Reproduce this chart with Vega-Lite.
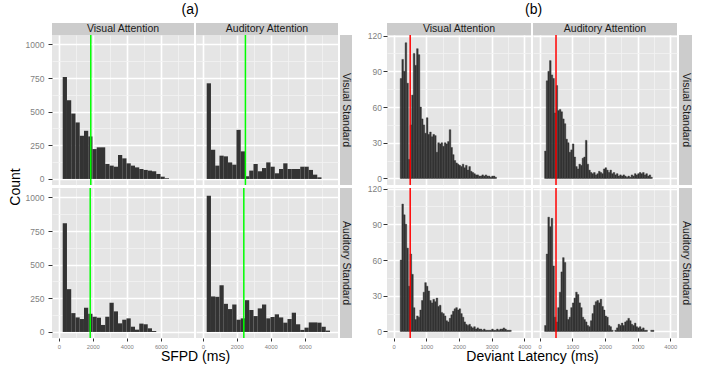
{
"$schema": "https://vega.github.io/schema/vega-lite/v6.json",
"padding": {"left": 8, "top": 3, "right": 5, "bottom": 34},
"datasets": {
"a1": [{"x":230,"e":480,"n":758},{"x":480,"e":730,"n":585},{"x":730,"e":980,"n":486},{"x":980,"e":1230,"n":420},{"x":1230,"e":1480,"n":321},{"x":1480,"e":1730,"n":358},{"x":1730,"e":1980,"n":316},{"x":1980,"e":2230,"n":222},{"x":2230,"e":2480,"n":235},{"x":2480,"e":2730,"n":235},{"x":2730,"e":2980,"n":111},{"x":2980,"e":3230,"n":99},{"x":3230,"e":3480,"n":91},{"x":3480,"e":3730,"n":178},{"x":3730,"e":3980,"n":153},{"x":3980,"e":4230,"n":116},{"x":4230,"e":4480,"n":99},{"x":4480,"e":4730,"n":86},{"x":4730,"e":4980,"n":74},{"x":4980,"e":5230,"n":67},{"x":5230,"e":5480,"n":62},{"x":5480,"e":5730,"n":57},{"x":5730,"e":5980,"n":37},{"x":5980,"e":6230,"n":17},{"x":6230,"e":6480,"n":5}],
"a2": [{"x":230,"e":480,"n":711},{"x":480,"e":730,"n":217},{"x":730,"e":980,"n":99},{"x":980,"e":1230,"n":173},{"x":1230,"e":1480,"n":168},{"x":1480,"e":1730,"n":123},{"x":1730,"e":1980,"n":106},{"x":1980,"e":2230,"n":365},{"x":2230,"e":2480,"n":205},{"x":2480,"e":2730,"n":20},{"x":2730,"e":2980,"n":62},{"x":2980,"e":3230,"n":111},{"x":3230,"e":3480,"n":57},{"x":3480,"e":3730,"n":81},{"x":3730,"e":3980,"n":123},{"x":3980,"e":4230,"n":91},{"x":4230,"e":4480,"n":42},{"x":4480,"e":4730,"n":74},{"x":4730,"e":4980,"n":116},{"x":4980,"e":5230,"n":74},{"x":5230,"e":5480,"n":74},{"x":5480,"e":5730,"n":74},{"x":5730,"e":5980,"n":91},{"x":5980,"e":6230,"n":91},{"x":6230,"e":6480,"n":67},{"x":6480,"e":6730,"n":32},{"x":6730,"e":6980,"n":12}],
"a3": [{"x":230,"e":480,"n":808},{"x":480,"e":730,"n":318},{"x":730,"e":980,"n":140},{"x":980,"e":1230,"n":108},{"x":1230,"e":1480,"n":96},{"x":1480,"e":1730,"n":180},{"x":1730,"e":1980,"n":135},{"x":1980,"e":2230,"n":113},{"x":2230,"e":2480,"n":106},{"x":2480,"e":2730,"n":52},{"x":2730,"e":2980,"n":113},{"x":2980,"e":3230,"n":217},{"x":3230,"e":3480,"n":153},{"x":3480,"e":3730,"n":64},{"x":3730,"e":3980,"n":91},{"x":3980,"e":4230,"n":101},{"x":4230,"e":4480,"n":39},{"x":4480,"e":4730,"n":17},{"x":4730,"e":4980,"n":62},{"x":4980,"e":5230,"n":57},{"x":5230,"e":5480,"n":27},{"x":5480,"e":5730,"n":7}],
"a4": [{"x":230,"e":480,"n":1012},{"x":480,"e":730,"n":264},{"x":730,"e":980,"n":261},{"x":980,"e":1230,"n":347},{"x":1230,"e":1480,"n":209},{"x":1480,"e":1730,"n":170},{"x":1730,"e":1980,"n":204},{"x":1980,"e":2230,"n":91},{"x":2230,"e":2480,"n":101},{"x":2480,"e":2730,"n":236},{"x":2730,"e":2980,"n":163},{"x":2980,"e":3230,"n":118},{"x":3230,"e":3480,"n":175},{"x":3480,"e":3730,"n":204},{"x":3730,"e":3980,"n":101},{"x":3980,"e":4230,"n":111},{"x":4230,"e":4480,"n":131},{"x":4480,"e":4730,"n":108},{"x":4730,"e":4980,"n":69},{"x":4980,"e":5230,"n":96},{"x":5230,"e":5480,"n":143},{"x":5480,"e":5730,"n":57},{"x":5730,"e":5980,"n":15},{"x":5980,"e":6230,"n":32},{"x":6230,"e":6480,"n":71},{"x":6480,"e":6730,"n":71},{"x":6730,"e":6980,"n":69},{"x":6980,"e":7230,"n":39},{"x":7230,"e":7480,"n":10}],
"b1": [{"x":200,"e":250,"n":84},{"x":250,"e":300,"n":100},{"x":300,"e":350,"n":90},{"x":350,"e":400,"n":114},{"x":400,"e":450,"n":80},{"x":450,"e":500,"n":16},{"x":500,"e":550,"n":45},{"x":550,"e":600,"n":70},{"x":600,"e":650,"n":105},{"x":650,"e":700,"n":95},{"x":700,"e":750,"n":109},{"x":750,"e":800,"n":104},{"x":800,"e":850,"n":60},{"x":850,"e":900,"n":50},{"x":900,"e":950,"n":45},{"x":950,"e":1000,"n":38},{"x":1000,"e":1050,"n":51},{"x":1050,"e":1100,"n":37},{"x":1100,"e":1150,"n":39},{"x":1150,"e":1200,"n":35},{"x":1200,"e":1250,"n":37},{"x":1250,"e":1300,"n":36},{"x":1300,"e":1350,"n":22},{"x":1350,"e":1400,"n":30},{"x":1400,"e":1450,"n":29},{"x":1450,"e":1500,"n":30},{"x":1500,"e":1550,"n":27},{"x":1550,"e":1600,"n":30},{"x":1600,"e":1650,"n":29},{"x":1650,"e":1700,"n":31},{"x":1700,"e":1750,"n":41},{"x":1750,"e":1800,"n":26},{"x":1800,"e":1850,"n":20},{"x":1850,"e":1900,"n":15},{"x":1900,"e":1950,"n":13},{"x":1950,"e":2000,"n":12},{"x":2000,"e":2050,"n":11},{"x":2050,"e":2100,"n":10},{"x":2100,"e":2150,"n":12},{"x":2150,"e":2200,"n":9},{"x":2200,"e":2250,"n":11},{"x":2250,"e":2300,"n":7},{"x":2300,"e":2350,"n":10},{"x":2350,"e":2400,"n":6},{"x":2400,"e":2450,"n":5},{"x":2450,"e":2500,"n":4},{"x":2500,"e":2550,"n":3},{"x":2550,"e":2600,"n":3},{"x":2600,"e":2650,"n":2},{"x":2650,"e":2700,"n":2},{"x":2700,"e":2750,"n":3},{"x":2750,"e":2800,"n":2},{"x":2800,"e":2850,"n":3},{"x":2850,"e":2900,"n":2},{"x":2900,"e":2950,"n":2},{"x":2950,"e":3000,"n":1},{"x":3000,"e":3050,"n":2},{"x":3050,"e":3100,"n":2},{"x":3100,"e":3150,"n":1}],
"b2": [{"x":150,"e":200,"n":23},{"x":200,"e":250,"n":82},{"x":250,"e":300,"n":90},{"x":300,"e":350,"n":99},{"x":350,"e":400,"n":87},{"x":400,"e":450,"n":84},{"x":450,"e":500,"n":55},{"x":500,"e":550,"n":78},{"x":550,"e":600,"n":57},{"x":600,"e":650,"n":58},{"x":650,"e":700,"n":56},{"x":700,"e":750,"n":50},{"x":750,"e":800,"n":46},{"x":800,"e":850,"n":33},{"x":850,"e":900,"n":30},{"x":900,"e":950,"n":22},{"x":950,"e":1000,"n":24},{"x":1000,"e":1050,"n":29},{"x":1050,"e":1100,"n":18},{"x":1100,"e":1150,"n":10},{"x":1150,"e":1200,"n":8},{"x":1200,"e":1250,"n":12},{"x":1250,"e":1300,"n":11},{"x":1300,"e":1350,"n":17},{"x":1350,"e":1400,"n":18},{"x":1400,"e":1450,"n":32},{"x":1450,"e":1500,"n":12},{"x":1500,"e":1550,"n":7},{"x":1550,"e":1600,"n":5},{"x":1600,"e":1650,"n":4},{"x":1650,"e":1700,"n":5},{"x":1700,"e":1750,"n":3},{"x":1750,"e":1800,"n":4},{"x":1800,"e":1850,"n":6},{"x":1850,"e":1900,"n":5},{"x":1900,"e":1950,"n":4},{"x":1950,"e":2000,"n":8},{"x":2000,"e":2050,"n":9},{"x":2050,"e":2100,"n":7},{"x":2100,"e":2150,"n":5},{"x":2150,"e":2200,"n":7},{"x":2200,"e":2250,"n":4},{"x":2250,"e":2300,"n":5},{"x":2300,"e":2350,"n":3},{"x":2350,"e":2400,"n":4},{"x":2400,"e":2450,"n":2},{"x":2450,"e":2500,"n":3},{"x":2500,"e":2550,"n":2},{"x":2550,"e":2600,"n":3},{"x":2600,"e":2650,"n":2},{"x":2650,"e":2700,"n":1},{"x":2700,"e":2750,"n":2},{"x":2750,"e":2800,"n":1},{"x":2800,"e":2850,"n":3},{"x":2850,"e":2900,"n":2},{"x":2900,"e":2950,"n":4},{"x":2950,"e":3000,"n":3},{"x":3000,"e":3050,"n":4},{"x":3050,"e":3100,"n":5},{"x":3100,"e":3150,"n":4},{"x":3150,"e":3200,"n":5},{"x":3200,"e":3250,"n":3},{"x":3250,"e":3300,"n":4},{"x":3300,"e":3350,"n":2},{"x":3350,"e":3400,"n":3},{"x":3400,"e":3450,"n":1}],
"b3": [{"x":200,"e":250,"n":60},{"x":250,"e":300,"n":107},{"x":300,"e":350,"n":98},{"x":350,"e":400,"n":90},{"x":400,"e":450,"n":70},{"x":450,"e":500,"n":38},{"x":500,"e":550,"n":65},{"x":550,"e":600,"n":48},{"x":600,"e":650,"n":20},{"x":650,"e":700,"n":10},{"x":700,"e":750,"n":13},{"x":750,"e":800,"n":12},{"x":800,"e":850,"n":18},{"x":850,"e":900,"n":26},{"x":900,"e":950,"n":33},{"x":950,"e":1000,"n":41},{"x":1000,"e":1050,"n":38},{"x":1050,"e":1100,"n":34},{"x":1100,"e":1150,"n":26},{"x":1150,"e":1200,"n":24},{"x":1200,"e":1250,"n":27},{"x":1250,"e":1300,"n":25},{"x":1300,"e":1350,"n":28},{"x":1350,"e":1400,"n":21},{"x":1400,"e":1450,"n":22},{"x":1450,"e":1500,"n":16},{"x":1500,"e":1550,"n":15},{"x":1550,"e":1600,"n":13},{"x":1600,"e":1650,"n":9},{"x":1650,"e":1700,"n":8},{"x":1700,"e":1750,"n":11},{"x":1750,"e":1800,"n":14},{"x":1800,"e":1850,"n":17},{"x":1850,"e":1900,"n":19},{"x":1900,"e":1950,"n":20},{"x":1950,"e":2000,"n":18},{"x":2000,"e":2050,"n":19},{"x":2050,"e":2100,"n":15},{"x":2100,"e":2150,"n":12},{"x":2150,"e":2200,"n":8},{"x":2200,"e":2250,"n":6},{"x":2250,"e":2300,"n":5},{"x":2300,"e":2350,"n":6},{"x":2350,"e":2400,"n":4},{"x":2400,"e":2450,"n":3},{"x":2450,"e":2500,"n":4},{"x":2500,"e":2550,"n":2},{"x":2550,"e":2600,"n":3},{"x":2600,"e":2650,"n":2},{"x":2650,"e":2700,"n":2},{"x":2700,"e":2750,"n":1},{"x":2750,"e":2800,"n":2},{"x":2800,"e":2850,"n":1},{"x":2850,"e":2900,"n":1},{"x":2900,"e":2950,"n":1},{"x":2950,"e":3000,"n":1},{"x":3000,"e":3050,"n":2},{"x":3050,"e":3100,"n":1},{"x":3100,"e":3150,"n":1},{"x":3150,"e":3200,"n":2},{"x":3200,"e":3250,"n":1},{"x":3250,"e":3300,"n":2},{"x":3300,"e":3350,"n":2},{"x":3350,"e":3400,"n":3},{"x":3400,"e":3450,"n":2},{"x":3450,"e":3500,"n":1},{"x":3500,"e":3550,"n":1},{"x":3550,"e":3600,"n":1}],
"b4": [{"x":150,"e":200,"n":5},{"x":200,"e":250,"n":65},{"x":250,"e":300,"n":96},{"x":300,"e":350,"n":88},{"x":350,"e":400,"n":95},{"x":400,"e":450,"n":55},{"x":450,"e":500,"n":12},{"x":500,"e":550,"n":8},{"x":550,"e":600,"n":20},{"x":600,"e":650,"n":33},{"x":650,"e":700,"n":50},{"x":700,"e":750,"n":62},{"x":750,"e":800,"n":58},{"x":800,"e":850,"n":18},{"x":850,"e":900,"n":10},{"x":900,"e":950,"n":12},{"x":950,"e":1000,"n":20},{"x":1000,"e":1050,"n":24},{"x":1050,"e":1100,"n":28},{"x":1100,"e":1150,"n":33},{"x":1150,"e":1200,"n":31},{"x":1200,"e":1250,"n":24},{"x":1250,"e":1300,"n":20},{"x":1300,"e":1350,"n":12},{"x":1350,"e":1400,"n":10},{"x":1400,"e":1450,"n":8},{"x":1450,"e":1500,"n":5},{"x":1500,"e":1550,"n":4},{"x":1550,"e":1600,"n":9},{"x":1600,"e":1650,"n":15},{"x":1650,"e":1700,"n":22},{"x":1700,"e":1750,"n":25},{"x":1750,"e":1800,"n":26},{"x":1800,"e":1850,"n":24},{"x":1850,"e":1900,"n":27},{"x":1900,"e":1950,"n":21},{"x":1950,"e":2000,"n":18},{"x":2000,"e":2050,"n":13},{"x":2050,"e":2100,"n":12},{"x":2100,"e":2150,"n":5},{"x":2150,"e":2200,"n":4},{"x":2200,"e":2250,"n":1},{"x":2300,"e":2350,"n":1},{"x":2350,"e":2400,"n":3},{"x":2400,"e":2450,"n":6},{"x":2450,"e":2500,"n":5},{"x":2500,"e":2550,"n":7},{"x":2550,"e":2600,"n":5},{"x":2600,"e":2650,"n":8},{"x":2650,"e":2700,"n":9},{"x":2700,"e":2750,"n":11},{"x":2750,"e":2800,"n":9},{"x":2800,"e":2850,"n":6},{"x":2850,"e":2900,"n":5},{"x":2900,"e":2950,"n":7},{"x":2950,"e":3000,"n":4},{"x":3000,"e":3050,"n":3},{"x":3050,"e":3100,"n":4},{"x":3100,"e":3150,"n":2},{"x":3150,"e":3200,"n":3},{"x":3200,"e":3250,"n":1},{"x":3250,"e":3300,"n":1},{"x":3400,"e":3450,"n":1},{"x":3450,"e":3500,"n":1}]
},
"hconcat": [
{
"title": {"text": "(a)", "dx": 10, "offset": 6},
"columns": 3, "align": "each", "bounds": "flush", "spacing": {"row": 0, "column": 2},
"concat": [
{"width": 142, "height": 12, "view": {"fill": "#CCCCCC"}, "data": {"values": [{"t": "Visual Attention"}]}, "mark": {"type": "text", "fontSize": 10.5, "color": "#1A1A1A"}, "encoding": {"text": {"field": "t"}}},
{"width": 142, "height": 12, "view": {"fill": "#CCCCCC"}, "data": {"values": [{"t": "Auditory Attention"}]}, "mark": {"type": "text", "fontSize": 10.5, "color": "#1A1A1A"}, "encoding": {"text": {"field": "t"}}},
{"width": 12, "height": 12, "data": {"values": [{"t": ""}]}, "mark": {"type": "text"}, "encoding": {"text": {"field": "t"}}},
{"width": 142, "height": 150, "view": {"fill": "#E5E5E5"}, "layer": [
 {"data": {"name": "a1"}, "mark": {"type": "rect", "color": "#333333"}, "encoding": {
  "x": {"field": "x", "type": "quantitative", "scale": {"domain": [-400, 7950]}, "axis": {"values": [0,1000,2000,3000,4000,5000,6000,7000], "labels": false, "ticks": false, "title": null, "gridColor": {"condition": {"test": "datum.value % 2000 === 0", "value": "#FFFFFF"}, "value": "#F2F2F2"}, "gridWidth": {"condition": {"test": "datum.value % 2000 === 0", "value": 1.6}, "value": 0.8}}},
  "x2": {"field": "e"},
  "y": {"field": "n", "type": "quantitative", "scale": {"domain": [-45, 1070]}, "axis": {"values": [0,125,250,375,500,625,750,875,1000], "format": "d", "labelExpr": "datum.value % 250 === 0 ? datum.label : ''", "labelPadding": 4, "tickOpacity": {"condition": {"test": "datum.value % 250 === 0", "value": 1}, "value": 0}, "title": "Count", "titleY": 151.5, "titlePadding": 3, "gridColor": {"condition": {"test": "datum.value % 250 === 0", "value": "#FFFFFF"}, "value": "#F2F2F2"}, "gridWidth": {"condition": {"test": "datum.value % 250 === 0", "value": 1.6}, "value": 0.8}}},
  "y2": {"datum": 0}}},
 {"data": {"values": [{"m": 1880}]}, "mark": {"type": "rule", "color": "#00FF00", "strokeWidth": 1.5}, "encoding": {"x": {"field": "m", "type": "quantitative", "scale": {"domain": [-400, 7950]}, "axis": {"values": [0,1000,2000,3000,4000,5000,6000,7000], "labels": false, "ticks": false, "title": null, "gridColor": {"condition": {"test": "datum.value % 2000 === 0", "value": "#FFFFFF"}, "value": "#F2F2F2"}, "gridWidth": {"condition": {"test": "datum.value % 2000 === 0", "value": 1.6}, "value": 0.8}}}}}
]},
{"width": 142, "height": 150, "view": {"fill": "#E5E5E5"}, "layer": [
 {"data": {"name": "a2"}, "mark": {"type": "rect", "color": "#333333"}, "encoding": {
  "x": {"field": "x", "type": "quantitative", "scale": {"domain": [-400, 7950]}, "axis": {"values": [0,1000,2000,3000,4000,5000,6000,7000], "labels": false, "ticks": false, "title": null, "gridColor": {"condition": {"test": "datum.value % 2000 === 0", "value": "#FFFFFF"}, "value": "#F2F2F2"}, "gridWidth": {"condition": {"test": "datum.value % 2000 === 0", "value": 1.6}, "value": 0.8}}},
  "x2": {"field": "e"},
  "y": {"field": "n", "type": "quantitative", "scale": {"domain": [-45, 1070]}, "axis": {"values": [0,125,250,375,500,625,750,875,1000], "labels": false, "ticks": false, "title": null, "gridColor": {"condition": {"test": "datum.value % 250 === 0", "value": "#FFFFFF"}, "value": "#F2F2F2"}, "gridWidth": {"condition": {"test": "datum.value % 250 === 0", "value": 1.6}, "value": 0.8}}},
  "y2": {"datum": 0}}},
 {"data": {"values": [{"m": 2506}]}, "mark": {"type": "rule", "color": "#00FF00", "strokeWidth": 1.5}, "encoding": {"x": {"field": "m", "type": "quantitative", "scale": {"domain": [-400, 7950]}, "axis": {"values": [0,1000,2000,3000,4000,5000,6000,7000], "labels": false, "ticks": false, "title": null, "gridColor": {"condition": {"test": "datum.value % 2000 === 0", "value": "#FFFFFF"}, "value": "#F2F2F2"}, "gridWidth": {"condition": {"test": "datum.value % 2000 === 0", "value": 1.6}, "value": 0.8}}}}}
]},
{"width": 12, "height": 150, "view": {"fill": "#CCCCCC"}, "data": {"values": [{"t": "Visual Standard"}]}, "mark": {"type": "text", "fontSize": 10.5, "angle": 90, "color": "#1A1A1A"}, "encoding": {"text": {"field": "t"}}},
{"width": 142, "height": 3, "data": {"values": [{"t": ""}]}, "mark": {"type": "text"}, "encoding": {"text": {"field": "t"}}},
{"width": 142, "height": 3, "data": {"values": [{"t": ""}]}, "mark": {"type": "text"}, "encoding": {"text": {"field": "t"}}},
{"width": 12, "height": 3, "data": {"values": [{"t": ""}]}, "mark": {"type": "text"}, "encoding": {"text": {"field": "t"}}},
{"width": 142, "height": 150, "view": {"fill": "#E5E5E5"}, "layer": [
 {"data": {"name": "a3"}, "mark": {"type": "rect", "color": "#333333"}, "encoding": {
  "x": {"field": "x", "type": "quantitative", "scale": {"domain": [-400, 7950]}, "axis": {"values": [0,1000,2000,3000,4000,5000,6000,7000], "format": "d", "labelExpr": "datum.value % 2000 === 0 ? datum.label : ''", "labelFontSize": 5.8, "labelPadding": 2, "tickSize": 3, "tickOpacity": {"condition": {"test": "datum.value % 2000 === 0", "value": 1}, "value": 0}, "title": "SFPD (ms)", "titleX": 143, "titlePadding": 1, "gridColor": {"condition": {"test": "datum.value % 2000 === 0", "value": "#FFFFFF"}, "value": "#F2F2F2"}, "gridWidth": {"condition": {"test": "datum.value % 2000 === 0", "value": 1.6}, "value": 0.8}}},
  "x2": {"field": "e"},
  "y": {"field": "n", "type": "quantitative", "scale": {"domain": [-45, 1070]}, "axis": {"values": [0,125,250,375,500,625,750,875,1000], "format": "d", "labelExpr": "datum.value % 250 === 0 ? datum.label : ''", "labelPadding": 4, "tickOpacity": {"condition": {"test": "datum.value % 250 === 0", "value": 1}, "value": 0}, "title": null, "gridColor": {"condition": {"test": "datum.value % 250 === 0", "value": "#FFFFFF"}, "value": "#F2F2F2"}, "gridWidth": {"condition": {"test": "datum.value % 250 === 0", "value": 1.6}, "value": 0.8}}},
  "y2": {"datum": 0}}},
 {"data": {"values": [{"m": 1847}]}, "mark": {"type": "rule", "color": "#00FF00", "strokeWidth": 1.5}, "encoding": {"x": {"field": "m", "type": "quantitative", "scale": {"domain": [-400, 7950]}, "axis": {"values": [0,1000,2000,3000,4000,5000,6000,7000], "format": "d", "labelExpr": "datum.value % 2000 === 0 ? datum.label : ''", "labelFontSize": 5.8, "labelPadding": 2, "tickSize": 3, "tickOpacity": {"condition": {"test": "datum.value % 2000 === 0", "value": 1}, "value": 0}, "title": "SFPD (ms)", "titleX": 143, "titlePadding": 1, "gridColor": {"condition": {"test": "datum.value % 2000 === 0", "value": "#FFFFFF"}, "value": "#F2F2F2"}, "gridWidth": {"condition": {"test": "datum.value % 2000 === 0", "value": 1.6}, "value": 0.8}}}}}
]},
{"width": 142, "height": 150, "view": {"fill": "#E5E5E5"}, "layer": [
 {"data": {"name": "a4"}, "mark": {"type": "rect", "color": "#333333"}, "encoding": {
  "x": {"field": "x", "type": "quantitative", "scale": {"domain": [-400, 7950]}, "axis": {"values": [0,1000,2000,3000,4000,5000,6000,7000], "format": "d", "labelExpr": "datum.value % 2000 === 0 ? datum.label : ''", "labelFontSize": 5.8, "labelPadding": 2, "tickSize": 3, "tickOpacity": {"condition": {"test": "datum.value % 2000 === 0", "value": 1}, "value": 0}, "title": null, "gridColor": {"condition": {"test": "datum.value % 2000 === 0", "value": "#FFFFFF"}, "value": "#F2F2F2"}, "gridWidth": {"condition": {"test": "datum.value % 2000 === 0", "value": 1.6}, "value": 0.8}}},
  "x2": {"field": "e"},
  "y": {"field": "n", "type": "quantitative", "scale": {"domain": [-45, 1070]}, "axis": {"values": [0,125,250,375,500,625,750,875,1000], "labels": false, "ticks": false, "title": null, "gridColor": {"condition": {"test": "datum.value % 250 === 0", "value": "#FFFFFF"}, "value": "#F2F2F2"}, "gridWidth": {"condition": {"test": "datum.value % 250 === 0", "value": 1.6}, "value": 0.8}}},
  "y2": {"datum": 0}}},
 {"data": {"values": [{"m": 2412}]}, "mark": {"type": "rule", "color": "#00FF00", "strokeWidth": 1.5}, "encoding": {"x": {"field": "m", "type": "quantitative", "scale": {"domain": [-400, 7950]}, "axis": {"values": [0,1000,2000,3000,4000,5000,6000,7000], "format": "d", "labelExpr": "datum.value % 2000 === 0 ? datum.label : ''", "labelFontSize": 5.8, "labelPadding": 2, "tickSize": 3, "tickOpacity": {"condition": {"test": "datum.value % 2000 === 0", "value": 1}, "value": 0}, "title": null, "gridColor": {"condition": {"test": "datum.value % 2000 === 0", "value": "#FFFFFF"}, "value": "#F2F2F2"}, "gridWidth": {"condition": {"test": "datum.value % 2000 === 0", "value": 1.6}, "value": 0.8}}}}}
]},
{"width": 12, "height": 150, "view": {"fill": "#CCCCCC"}, "data": {"values": [{"t": "Auditory Standard"}]}, "mark": {"type": "text", "fontSize": 10.5, "angle": 90, "color": "#1A1A1A"}, "encoding": {"text": {"field": "t"}}}
]
},
{
"title": {"text": "(b)", "dx": 4, "offset": 6},
"columns": 3, "align": "each", "bounds": "flush", "spacing": {"row": 0, "column": 2},
"concat": [
{"width": 144, "height": 12, "view": {"fill": "#CCCCCC"}, "data": {"values": [{"t": "Visual Attention"}]}, "mark": {"type": "text", "fontSize": 10.5, "color": "#1A1A1A"}, "encoding": {"text": {"field": "t"}}},
{"width": 144, "height": 12, "view": {"fill": "#CCCCCC"}, "data": {"values": [{"t": "Auditory Attention"}]}, "mark": {"type": "text", "fontSize": 10.5, "color": "#1A1A1A"}, "encoding": {"text": {"field": "t"}}},
{"width": 13, "height": 12, "data": {"values": [{"t": ""}]}, "mark": {"type": "text"}, "encoding": {"text": {"field": "t"}}},
{"width": 144, "height": 150, "view": {"fill": "#E5E5E5"}, "layer": [
 {"data": {"name": "b1"}, "mark": {"type": "rect", "color": "#333333", "stroke": "#333333", "strokeWidth": 0.4}, "encoding": {
  "x": {"field": "x", "type": "quantitative", "scale": {"domain": [-205, 4205]}, "axis": {"values": [0,500,1000,1500,2000,2500,3000,3500,4000], "labels": false, "ticks": false, "title": null, "gridColor": {"condition": {"test": "datum.value % 1000 === 0", "value": "#FFFFFF"}, "value": "#F2F2F2"}, "gridWidth": {"condition": {"test": "datum.value % 1000 === 0", "value": 1.6}, "value": 0.8}}},
  "x2": {"field": "e"},
  "y": {"field": "n", "type": "quantitative", "scale": {"domain": [-5.5, 120.5]}, "axis": {"values": [0,15,30,45,60,75,90,105,120], "labelExpr": "datum.value % 30 === 0 ? datum.label : ''", "labelPadding": 1.5, "tickOpacity": {"condition": {"test": "datum.value % 30 === 0", "value": 1}, "value": 0}, "title": null, "gridColor": {"condition": {"test": "datum.value % 30 === 0", "value": "#FFFFFF"}, "value": "#F2F2F2"}, "gridWidth": {"condition": {"test": "datum.value % 30 === 0", "value": 1.6}, "value": 0.8}}},
  "y2": {"datum": 0}}},
 {"data": {"values": [{"m": 505}]}, "mark": {"type": "rule", "color": "#FF0000", "strokeWidth": 1.5}, "encoding": {"x": {"field": "m", "type": "quantitative", "scale": {"domain": [-205, 4205]}, "axis": {"values": [0,500,1000,1500,2000,2500,3000,3500,4000], "labels": false, "ticks": false, "title": null, "gridColor": {"condition": {"test": "datum.value % 1000 === 0", "value": "#FFFFFF"}, "value": "#F2F2F2"}, "gridWidth": {"condition": {"test": "datum.value % 1000 === 0", "value": 1.6}, "value": 0.8}}}}}
]},
{"width": 144, "height": 150, "view": {"fill": "#E5E5E5"}, "layer": [
 {"data": {"name": "b2"}, "mark": {"type": "rect", "color": "#333333", "stroke": "#333333", "strokeWidth": 0.4}, "encoding": {
  "x": {"field": "x", "type": "quantitative", "scale": {"domain": [-205, 4205]}, "axis": {"values": [0,500,1000,1500,2000,2500,3000,3500,4000], "labels": false, "ticks": false, "title": null, "gridColor": {"condition": {"test": "datum.value % 1000 === 0", "value": "#FFFFFF"}, "value": "#F2F2F2"}, "gridWidth": {"condition": {"test": "datum.value % 1000 === 0", "value": 1.6}, "value": 0.8}}},
  "x2": {"field": "e"},
  "y": {"field": "n", "type": "quantitative", "scale": {"domain": [-5.5, 120.5]}, "axis": {"values": [0,15,30,45,60,75,90,105,120], "labels": false, "ticks": false, "title": null, "gridColor": {"condition": {"test": "datum.value % 30 === 0", "value": "#FFFFFF"}, "value": "#F2F2F2"}, "gridWidth": {"condition": {"test": "datum.value % 30 === 0", "value": 1.6}, "value": 0.8}}},
  "y2": {"datum": 0}}},
 {"data": {"values": [{"m": 500}]}, "mark": {"type": "rule", "color": "#FF0000", "strokeWidth": 1.5}, "encoding": {"x": {"field": "m", "type": "quantitative", "scale": {"domain": [-205, 4205]}, "axis": {"values": [0,500,1000,1500,2000,2500,3000,3500,4000], "labels": false, "ticks": false, "title": null, "gridColor": {"condition": {"test": "datum.value % 1000 === 0", "value": "#FFFFFF"}, "value": "#F2F2F2"}, "gridWidth": {"condition": {"test": "datum.value % 1000 === 0", "value": 1.6}, "value": 0.8}}}}}
]},
{"width": 13, "height": 150, "view": {"fill": "#CCCCCC"}, "data": {"values": [{"t": "Visual Standard"}]}, "mark": {"type": "text", "fontSize": 10.5, "angle": 90, "color": "#1A1A1A"}, "encoding": {"text": {"field": "t"}}},
{"width": 144, "height": 3, "data": {"values": [{"t": ""}]}, "mark": {"type": "text"}, "encoding": {"text": {"field": "t"}}},
{"width": 144, "height": 3, "data": {"values": [{"t": ""}]}, "mark": {"type": "text"}, "encoding": {"text": {"field": "t"}}},
{"width": 13, "height": 3, "data": {"values": [{"t": ""}]}, "mark": {"type": "text"}, "encoding": {"text": {"field": "t"}}},
{"width": 144, "height": 150, "view": {"fill": "#E5E5E5"}, "layer": [
 {"data": {"name": "b3"}, "mark": {"type": "rect", "color": "#333333", "stroke": "#333333", "strokeWidth": 0.4}, "encoding": {
  "x": {"field": "x", "type": "quantitative", "scale": {"domain": [-205, 4205]}, "axis": {"values": [0,500,1000,1500,2000,2500,3000,3500,4000], "format": "d", "labelExpr": "datum.value % 1000 === 0 ? datum.label : ''", "labelFontSize": 5.8, "labelPadding": 2, "tickSize": 3, "tickOpacity": {"condition": {"test": "datum.value % 1000 === 0", "value": 1}, "value": 0}, "title": "Deviant Latency (ms)", "titleX": 145, "titlePadding": 1, "gridColor": {"condition": {"test": "datum.value % 1000 === 0", "value": "#FFFFFF"}, "value": "#F2F2F2"}, "gridWidth": {"condition": {"test": "datum.value % 1000 === 0", "value": 1.6}, "value": 0.8}}},
  "x2": {"field": "e"},
  "y": {"field": "n", "type": "quantitative", "scale": {"domain": [-5.5, 120.5]}, "axis": {"values": [0,15,30,45,60,75,90,105,120], "labelExpr": "datum.value % 30 === 0 ? datum.label : ''", "labelPadding": 1.5, "tickOpacity": {"condition": {"test": "datum.value % 30 === 0", "value": 1}, "value": 0}, "title": null, "gridColor": {"condition": {"test": "datum.value % 30 === 0", "value": "#FFFFFF"}, "value": "#F2F2F2"}, "gridWidth": {"condition": {"test": "datum.value % 30 === 0", "value": 1.6}, "value": 0.8}}},
  "y2": {"datum": 0}}},
 {"data": {"values": [{"m": 505}]}, "mark": {"type": "rule", "color": "#FF0000", "strokeWidth": 1.5}, "encoding": {"x": {"field": "m", "type": "quantitative", "scale": {"domain": [-205, 4205]}, "axis": {"values": [0,500,1000,1500,2000,2500,3000,3500,4000], "format": "d", "labelExpr": "datum.value % 1000 === 0 ? datum.label : ''", "labelFontSize": 5.8, "labelPadding": 2, "tickSize": 3, "tickOpacity": {"condition": {"test": "datum.value % 1000 === 0", "value": 1}, "value": 0}, "title": "Deviant Latency (ms)", "titleX": 145, "titlePadding": 1, "gridColor": {"condition": {"test": "datum.value % 1000 === 0", "value": "#FFFFFF"}, "value": "#F2F2F2"}, "gridWidth": {"condition": {"test": "datum.value % 1000 === 0", "value": 1.6}, "value": 0.8}}}}}
]},
{"width": 144, "height": 150, "view": {"fill": "#E5E5E5"}, "layer": [
 {"data": {"name": "b4"}, "mark": {"type": "rect", "color": "#333333", "stroke": "#333333", "strokeWidth": 0.4}, "encoding": {
  "x": {"field": "x", "type": "quantitative", "scale": {"domain": [-205, 4205]}, "axis": {"values": [0,500,1000,1500,2000,2500,3000,3500,4000], "format": "d", "labelExpr": "datum.value % 1000 === 0 ? datum.label : ''", "labelFontSize": 5.8, "labelPadding": 2, "tickSize": 3, "tickOpacity": {"condition": {"test": "datum.value % 1000 === 0", "value": 1}, "value": 0}, "title": null, "gridColor": {"condition": {"test": "datum.value % 1000 === 0", "value": "#FFFFFF"}, "value": "#F2F2F2"}, "gridWidth": {"condition": {"test": "datum.value % 1000 === 0", "value": 1.6}, "value": 0.8}}},
  "x2": {"field": "e"},
  "y": {"field": "n", "type": "quantitative", "scale": {"domain": [-5.5, 120.5]}, "axis": {"values": [0,15,30,45,60,75,90,105,120], "labels": false, "ticks": false, "title": null, "gridColor": {"condition": {"test": "datum.value % 30 === 0", "value": "#FFFFFF"}, "value": "#F2F2F2"}, "gridWidth": {"condition": {"test": "datum.value % 30 === 0", "value": 1.6}, "value": 0.8}}},
  "y2": {"datum": 0}}},
 {"data": {"values": [{"m": 500}]}, "mark": {"type": "rule", "color": "#FF0000", "strokeWidth": 1.5}, "encoding": {"x": {"field": "m", "type": "quantitative", "scale": {"domain": [-205, 4205]}, "axis": {"values": [0,500,1000,1500,2000,2500,3000,3500,4000], "format": "d", "labelExpr": "datum.value % 1000 === 0 ? datum.label : ''", "labelFontSize": 5.8, "labelPadding": 2, "tickSize": 3, "tickOpacity": {"condition": {"test": "datum.value % 1000 === 0", "value": 1}, "value": 0}, "title": null, "gridColor": {"condition": {"test": "datum.value % 1000 === 0", "value": "#FFFFFF"}, "value": "#F2F2F2"}, "gridWidth": {"condition": {"test": "datum.value % 1000 === 0", "value": 1.6}, "value": 0.8}}}}}
]},
{"width": 13, "height": 150, "view": {"fill": "#CCCCCC"}, "data": {"values": [{"t": "Auditory Standard"}]}, "mark": {"type": "text", "fontSize": 10.5, "angle": 90, "color": "#1A1A1A"}, "encoding": {"text": {"field": "t"}}}
]
}
],
"spacing": 15,
"config": {
 "view": {"stroke": null},
 "font": "Liberation Sans",
 "axis": {"domain": false, "tickColor": "#333333", "tickSize": 4, "labelColor": "#7F7F7F", "labelFont": "Liberation Sans", "labelFontSize": 8.5, "titleFont": "Liberation Sans", "titleFontWeight": "normal", "titleFontSize": 14, "titleColor": "#000000"},
 "title": {"font": "Liberation Sans", "fontSize": 14, "fontWeight": "normal", "color": "#000000", "anchor": "middle"},
 "text": {"font": "Liberation Sans"}
}
}
